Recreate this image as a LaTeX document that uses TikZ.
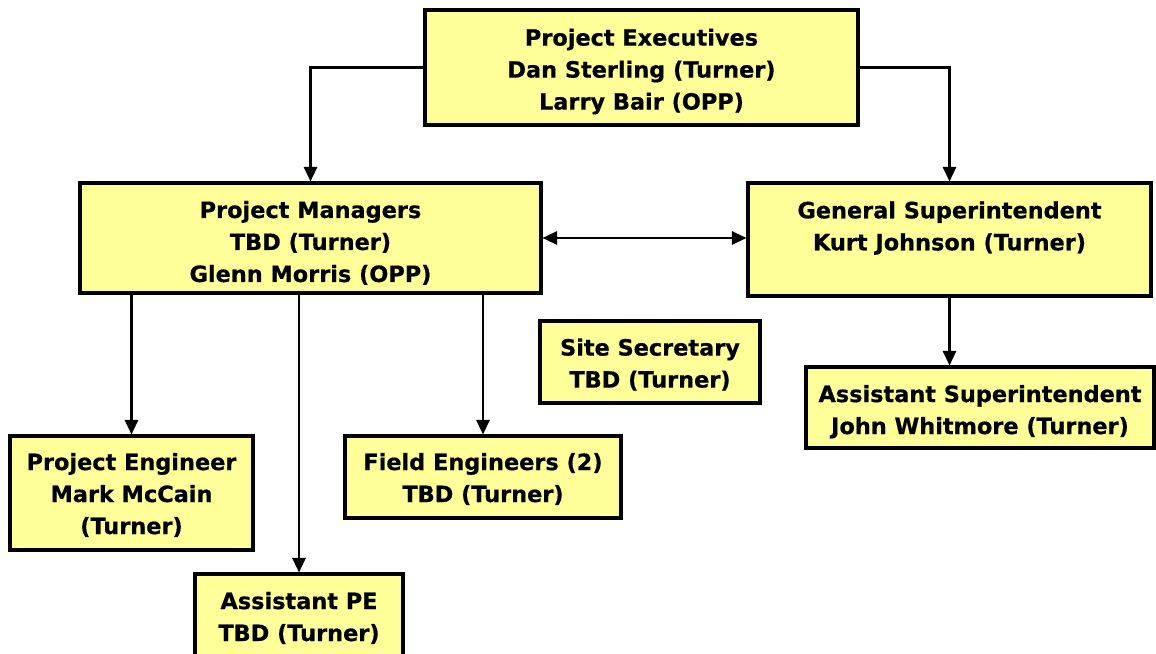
\documentclass[tikz,border=0pt]{standalone}
\usepackage{fontspec}
\setmainfont{DejaVu Sans}[BoldFeatures={FakeBold=0.6}]
\usetikzlibrary{arrows.meta}
\begin{document}
\begin{tikzpicture}[x=0.75pt,y=-0.75pt,
  box/.style={draw=black, line width=2.3pt, fill=boxfill, inner sep=0pt},
  txt/.style={align=center, inner sep=0pt, font=\bfseries\fontsize{16.8pt}{24pt}\selectfont},
  link/.style={draw=black, line width=1.6pt, -{Triangle[length=11pt,width=10pt]}},
  dlink/.style={draw=black, line width=1.6pt, {Triangle[length=11pt,width=10pt]}-{Triangle[length=11pt,width=10pt]}}]
\definecolor{boxfill}{HTML}{FFFF99}
\useasboundingbox (0,0) rectangle (1156,653);
\clip (0,0) rectangle (1156,653);
% boxes, each with its text set as a centred label
\node[box, minimum width=324.75pt, minimum height=86.25pt,
  label={[txt, yshift=-3pt]center:{Project Executives\\Dan Sterling (Turner)\\Larry Bair (OPP)}}]
  (exec) at (641.5,67.5) {};
\node[box, minimum width=345.75pt, minimum height=82.5pt,
  label={[txt, yshift=-3.7pt]center:{Project Managers\\TBD (Turner)\\Glenn Morris (OPP)}}]
  (pm) at (310.5,238) {};
\node[box, minimum width=302.25pt, minimum height=84.75pt,
  label={[txt, yshift=8.6pt]center:{General Superintendent\\Kurt Johnson (Turner)}}]
  (gs) at (949.5,239.5) {};
\node[box, minimum width=165pt, minimum height=61.5pt,
  label={[txt, yshift=-1.9pt]center:{Site Secretary\\TBD (Turner)}}]
  (ss) at (650,362) {};
\node[box, minimum width=261pt, minimum height=60.75pt,
  label={[txt, yshift=-3.2pt]center:{Assistant Superintendent\\John Whitmore (Turner)}}]
  (as) at (980,407.5) {};
\node[box, minimum width=182.25pt, minimum height=85.5pt,
  label={[txt, yshift=-1.5pt]center:{Project Engineer\\Mark McCain\\(Turner)}}]
  (peng) at (131.5,493) {};
\node[box, minimum width=207pt, minimum height=61.5pt,
  label={[txt, yshift=-1.5pt]center:{Field Engineers (2)\\TBD (Turner)}}]
  (fe) at (483,477) {};
\node[box, minimum width=156pt, minimum height=63.75pt,
  label={[txt, yshift=-1.1pt]center:{Assistant PE\\TBD (Turner)}}]
  (ape) at (299,616.5) {};
% connectors
\draw[link] (exec.west) -| (pm.north);
\draw[link] (exec.east) -| (gs.north);
\draw[dlink] (pm.east) -- (pm.east -| gs.west);
\draw[link] (pm.south -| peng.north) -- (peng.north);
\draw[link] (pm.south -| ape.north) -- (ape.north);
\draw[link] (pm.south -| fe.north) -- (fe.north);
\draw[link] (gs.south) -- (gs.south |- as.north);
\end{tikzpicture}
\end{document}
